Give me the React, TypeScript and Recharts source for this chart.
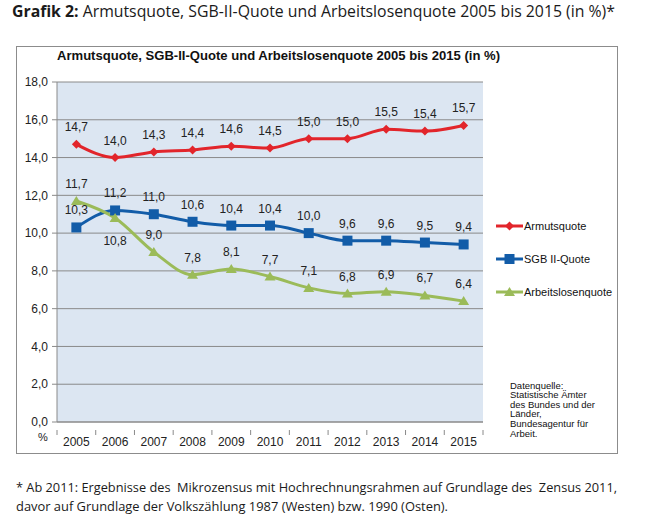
import React from "react";
import { LineChart, Line, XAxis, YAxis, CartesianGrid, LabelList } from "recharts";

const years = ["2005", "2006", "2007", "2008", "2009", "2010", "2011", "2012", "2013", "2014", "2015"];
const armutsquote = [14.7, 14.0, 14.3, 14.4, 14.6, 14.5, 15.0, 15.0, 15.5, 15.4, 15.7];
const sgbQuote = [10.3, 11.2, 11.0, 10.6, 10.4, 10.4, 10.0, 9.6, 9.6, 9.5, 9.4];
const arbeitslosenquote = [11.7, 10.8, 9.0, 7.8, 8.1, 7.7, 7.1, 6.8, 6.9, 6.7, 6.4];
const yTicks = [0, 2, 4, 6, 8, 10, 12, 14, 16, 18];

const data = years.map((year, i) => ({
  year,
  armut: armutsquote[i],
  sgb: sgbQuote[i],
  alq: arbeitslosenquote[i],
}));

const ARIAL = "'Liberation Sans', Arial, sans-serif";
const MYRIAD = "'Open Sans', 'Noto Sans', sans-serif";
const GRID = "#8a8a8a";
const BAND = 426 / years.length;

const fmt = (v: number) => v.toFixed(1).replace(".", ",");

function Diamond({ cx, cy, fill }: any) {
  if (cx == null || cy == null) return null;
  const r = 4.5;
  return <path d={`M${cx} ${cy - r}L${cx + r} ${cy}L${cx} ${cy + r}L${cx - r} ${cy}Z`} fill={fill} />;
}

function Square({ cx, cy, fill }: any) {
  if (cx == null || cy == null) return null;
  return <rect x={cx - 5} y={cy - 5} width={10} height={10} fill={fill} />;
}

function Triangle({ cx, cy, fill }: any) {
  if (cx == null || cy == null) return null;
  return <path d={`M${cx} ${cy - 5}L${cx + 5.5} ${cy + 4}L${cx - 5.5} ${cy + 4}Z`} fill={fill} />;
}

const series = [
  { key: "armut", name: "Armutsquote", color: "#e2252b", Marker: Diamond, below: [] as number[] },
  { key: "sgb", name: "SGB II-Quote", color: "#125ca8", Marker: Square, below: [] as number[] },
  { key: "alq", name: "Arbeitslosenquote", color: "#9bbb59", Marker: Triangle, below: [1] },
];

function makeLabel(below: number[]) {
  return (p: any) => {
    const { x, y, value, index } = p;
    if (x == null || y == null) return null;
    const dy = below.includes(index) ? 23 : -17;
    return (
      <text
        x={x}
        y={y + dy}
        textAnchor="middle"
        dominantBaseline="central"
        fontSize={12}
        fontFamily={ARIAL}
        fill="#222"
      >
        {fmt(value)}
      </text>
    );
  };
}

function YearTick({ x, y, payload, index }: any) {
  const last = index === years.length - 1;
  return (
    <g>
      <line x1={x - BAND / 2} x2={x - BAND / 2} y1={y} y2={y + 5} stroke={GRID} />
      {last && <line x1={x + BAND / 2} x2={x + BAND / 2} y1={y} y2={y + 5} stroke={GRID} />}
      <text x={x} y={y + 12} textAnchor="middle" dominantBaseline="central" fontSize={12} fontFamily={ARIAL} fill="#222">
        {payload.value}
      </text>
    </g>
  );
}

const sourceLines = ["Datenquelle:", "Statistische Ämter", "des Bundes und der", "Länder,", "Bundesagentur für", "Arbeit."];

export default function App() {
  return (
    <div style={{ position: "absolute", left: 0, top: 0, width: 663, height: 519, background: "#fff", overflow: "hidden" }}>
      <div
        style={{
          position: "absolute",
          left: 16,
          top: 46,
          width: 600,
          height: 406,
          border: "1px solid #8c8c8c",
        }}
      />
      <div style={{ position: "absolute", left: 16, top: 46 }}>
        <LineChart
          width={601}
          height={407}
          data={data}
          margin={{ top: 36, right: 134, bottom: 0, left: 0 }}
          style={{ fontFamily: ARIAL }}
        >
          <CartesianGrid vertical={false} stroke={GRID} fill="#dce6f2" fillOpacity={1} />
          <XAxis
            dataKey="year"
            height={31}
            interval={0}
            padding={{ left: BAND / 2, right: BAND / 2 }}
            tickLine={false}
            axisLine={{ stroke: GRID }}
            tick={<YearTick />}
          />
          <YAxis
            width={41}
            domain={[0, 18]}
            ticks={yTicks}
            interval={0}
            tickFormatter={fmt}
            tickSize={5}
            tickMargin={4}
            axisLine={{ stroke: GRID }}
            tickLine={{ stroke: GRID }}
            tick={{ fill: "#222", fontSize: 12, fontFamily: ARIAL }}
          />
          {series.map((s) => (
            <Line
              key={s.key}
              dataKey={s.key}
              name={s.name}
              type="monotone"
              stroke={s.color}
              strokeWidth={3}
              dot={<s.Marker fill={s.color} />}
              activeDot={false}
              isAnimationActive={false}
            >
              <LabelList dataKey={s.key} content={makeLabel(s.below)} />
            </Line>
          ))}
        </LineChart>
      </div>
      <svg width={663} height={519} style={{ position: "absolute", left: 0, top: 0, pointerEvents: "none" }}>
        <text x={12} y={17} fontSize={16} fontFamily={MYRIAD} fill="#1a1a1a" textLength={603} lengthAdjust="spacingAndGlyphs">
          <tspan fontWeight="bold">Grafik 2:</tspan> Armutsquote, SGB-II-Quote und Arbeitslosenquote 2005 bis 2015 (in %)*
        </text>
        <text x={57} y={60} fontSize={12} fontWeight="bold" fontFamily={ARIAL} fill="#111" textLength={443} lengthAdjust="spacingAndGlyphs">
          Armutsquote, SGB-II-Quote und Arbeitslosenquote 2005 bis 2015 (in %)
        </text>
        <text x={43} y={437} textAnchor="middle" dominantBaseline="central" fontSize={11} fontFamily={ARIAL} fill="#222">
          %
        </text>
        {series.map((s, i) => {
          const y = 226 + i * 33;
          return (
            <g key={s.key}>
              <line x1={496} x2={523} y1={y} y2={y} stroke={s.color} strokeWidth={3} />
              <s.Marker cx={509.5} cy={y} fill={s.color} />
              <text x={524} y={y} dominantBaseline="central" fontSize={11} fontFamily={ARIAL} fill="#111">
                {s.name}
              </text>
            </g>
          );
        })}
        {sourceLines.map((t, i) => (
          <text key={i} x={510} y={385 + i * 9.6} dominantBaseline="central" fontSize={9.5} fontFamily={ARIAL} fill="#111">
            {t}
          </text>
        ))}
        <text x={16} y={492} fontSize={13.5} fontFamily={MYRIAD} fill="#1a1a1a" textLength={601} lengthAdjust="spacingAndGlyphs" style={{ whiteSpace: "pre" }}>
          * Ab 2011: Ergebnisse des  Mikrozensus mit Hochrechnungsrahmen auf Grundlage des  Zensus 2011,
        </text>
        <text x={16} y={511} fontSize={13.5} fontFamily={MYRIAD} fill="#1a1a1a" textLength={432} lengthAdjust="spacingAndGlyphs">
          davor auf Grundlage der Volkszählung 1987 (Westen) bzw. 1990 (Osten).
        </text>
      </svg>
    </div>
  );
}
